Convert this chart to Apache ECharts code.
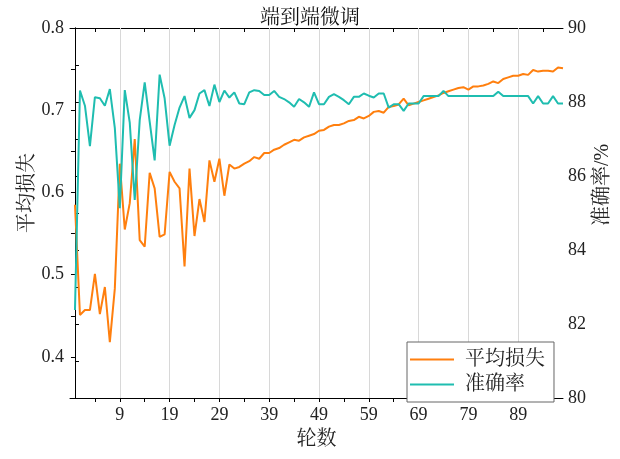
<!DOCTYPE html>
<html>
<head>
<meta charset="utf-8">
<title>端到端微调</title>
<script src="https://cdn.jsdelivr.net/npm/echarts@6/dist/echarts.min.js"></script>
<style>
  html, body { margin: 0; padding: 0; background: #fff; }
  #chart { width: 620px; height: 459px; }
</style>
</head>
<body>
<div id="chart"></div>
<script>
// Average loss per epoch (epochs 0..98)
const avgLoss = [
  0.585, 0.451, 0.457, 0.457, 0.501, 0.452, 0.485, 0.418, 0.483, 0.635,
  0.555, 0.587, 0.665, 0.542, 0.534, 0.624, 0.605, 0.546, 0.549, 0.625,
  0.613, 0.605, 0.510, 0.629, 0.547, 0.592, 0.564, 0.639, 0.613, 0.641,
  0.596, 0.634, 0.629, 0.631, 0.635, 0.638, 0.643, 0.641, 0.648, 0.648,
  0.652, 0.654, 0.658, 0.661, 0.664, 0.663, 0.667, 0.669, 0.671, 0.675,
  0.676, 0.680, 0.682, 0.682, 0.684, 0.687, 0.688, 0.692, 0.690, 0.693,
  0.698, 0.699, 0.697, 0.704, 0.705, 0.707, 0.714, 0.706, 0.708, 0.710,
  0.712, 0.714, 0.716, 0.718, 0.721, 0.723, 0.725, 0.727, 0.728, 0.725,
  0.729, 0.729, 0.730, 0.732, 0.735, 0.733, 0.738, 0.740, 0.742, 0.742,
  0.744, 0.743, 0.749, 0.747, 0.748, 0.748, 0.747, 0.752, 0.751
];

// Accuracy (%) per epoch (epochs 0..98)
const accuracy = [
  82.38, 88.31, 87.90, 86.81, 88.13, 88.10, 87.90, 88.35, 87.30, 85.13,
  88.32, 87.44, 85.35, 87.51, 88.53, 87.47, 86.42, 88.74, 88.10, 86.82,
  87.38, 87.85, 88.16, 87.57, 87.78, 88.23, 88.32, 87.89, 88.47, 88.00,
  88.31, 88.12, 88.26, 87.96, 87.94, 88.26, 88.32, 88.30, 88.19, 88.19,
  88.30, 88.14, 88.08, 87.99, 87.87, 88.08, 87.99, 87.87, 88.26, 87.94,
  87.94, 88.14, 88.21, 88.14, 88.05, 87.94, 88.14, 88.14, 88.23, 88.17,
  88.12, 88.23, 88.23, 87.85, 87.94, 87.94, 87.76, 87.96, 87.96, 87.96,
  88.16, 88.16, 88.16, 88.16, 88.30, 88.16, 88.16, 88.16, 88.16, 88.16,
  88.16, 88.16, 88.16, 88.16, 88.16, 88.28, 88.16, 88.16, 88.16, 88.16,
  88.16, 88.16, 87.96, 88.16, 87.96, 87.96, 88.16, 87.96, 87.96
];

// Epoch tick labels and the in-between tick positions
const xTickLabels = [9, 19, 29, 39, 49, 59, 69, 79, 89];
const xTickMarks = [4, 9, 14, 19, 24, 29, 34, 39, 44, 49, 54, 59, 64, 69, 74, 79, 84, 89, 94];

const seriesNames = ['平均损失', '准确率'];
const lossColor = '#FF7F0E';
const accColor = '#1FBDB0';
const FONT = "'Liberation Serif', 'Noto Serif CJK SC', 'Noto Sans CJK SC', serif";

const lossPoints = avgLoss.map((v, i) => [i, v]);
const accPoints = accuracy.map((v, i) => [i, v]);

const chart = echarts.init(document.getElementById('chart'), null, { renderer: 'canvas' });

const axisLine = { show: true, lineStyle: { color: '#000', width: 1 } };

chart.setOption({
  animation: false,
  backgroundColor: '#fff',
  textStyle: { fontFamily: FONT },
  title: {
    text: '端到端微调',
    left: 'center',
    top: 4,
    textStyle: { fontFamily: FONT, fontSize: 20, fontWeight: 'normal', color: '#111' }
  },
  grid: { left: 70, right: 57, top: 28, bottom: 61, containLabel: false },
  legend: {
    data: [
      { name: seriesNames[0], icon: 'rect', itemStyle: { color: lossColor } },
      { name: seriesNames[1], icon: 'rect', itemStyle: { color: accColor } }
    ],
    orient: 'vertical',
    left: 407,
    top: 342,
    padding: [5, 9, 5, 3],
    itemGap: 0,
    itemWidth: 44,
    itemHeight: 2,
    backgroundColor: '#fff',
    borderColor: '#666',
    borderWidth: 1,
    borderRadius: 0,
    textStyle: { fontFamily: FONT, fontSize: 20, lineHeight: 25, color: '#222', padding: [0, 0, 0, 6] }
  },
  xAxis: [
    {
      type: 'value',
      position: 'bottom',
      min: -1,
      max: 98,
      name: '轮数',
      nameLocation: 'middle',
      nameGap: 32,
      nameTextStyle: { fontFamily: FONT, fontSize: 20, color: '#222' },
      axisLine: axisLine,
      axisTick: { show: true, inside: false, length: 4, customValues: xTickMarks, lineStyle: { color: '#000' } },
      axisLabel: { show: true, customValues: xTickLabels, margin: 8, fontFamily: FONT, fontSize: 18, color: '#222' },
      splitLine: { show: false }
    },
    {
      type: 'value',
      position: 'top',
      min: -1,
      max: 98,
      axisLine: axisLine,
      axisTick: { show: true, inside: true, length: 4, customValues: xTickMarks, lineStyle: { color: '#000' } },
      axisLabel: { show: false },
      splitLine: { show: false }
    }
  ],
  yAxis: [
    {
      type: 'value',
      position: 'left',
      min: 0.35,
      max: 0.8,
      interval: 0.05,
      axisLine: axisLine,
      axisTick: { show: true, inside: false, length: 4, lineStyle: { color: '#000' } },
      axisLabel: {
        margin: 6,
        fontFamily: FONT,
        fontSize: 18,
        color: '#222',
        formatter: v => (Math.round(v * 100) % 10 === 0 ? v.toFixed(1) : '')
      },
      splitLine: { show: false }
    },
    {
      type: 'value',
      position: 'right',
      min: 80,
      max: 90,
      interval: 1,
      axisLine: axisLine,
      axisTick: { show: true, inside: false, length: 4, lineStyle: { color: '#000' } },
      axisLabel: {
        margin: 5,
        fontFamily: FONT,
        fontSize: 18,
        color: '#222',
        formatter: v => (Math.round(v) % 2 === 0 ? String(Math.round(v)) : '')
      },
      splitLine: { show: false }
    }
  ],
  graphic: [
    {
      type: 'text',
      x: 28,
      y: 193,
      rotation: Math.PI / 2,
      style: {
        text: '平均损失',
        fontFamily: FONT,
        fontSize: 20,
        fill: '#222',
        align: 'center',
        verticalAlign: 'middle'
      }
    },
    {
      type: 'text',
      x: 603,
      y: 185,
      rotation: Math.PI / 2,
      style: {
        text: '准确率/%',
        fontFamily: FONT,
        fontSize: 20,
        fill: '#222',
        align: 'center',
        verticalAlign: 'middle'
      }
    }
  ],
  series: [
    {
      name: seriesNames[0],
      type: 'line',
      xAxisIndex: 0,
      yAxisIndex: 0,
      data: lossPoints,
      symbol: 'none',
      z: 3,
      lineStyle: { color: lossColor, width: 2 },
      itemStyle: { color: lossColor },
      markLine: {
        silent: true,
        z: 1,
        symbol: 'none',
        label: { show: false },
        lineStyle: { color: '#d8d8d8', width: 1, type: 'solid' },
        data: xTickLabels.map(v => ({ xAxis: v }))
      }
    },
    {
      name: seriesNames[1],
      type: 'line',
      xAxisIndex: 0,
      yAxisIndex: 1,
      data: accPoints,
      symbol: 'none',
      z: 4,
      lineStyle: { color: accColor, width: 2 },
      itemStyle: { color: accColor }
    }
  ]
});
</script>
</body>
</html>
